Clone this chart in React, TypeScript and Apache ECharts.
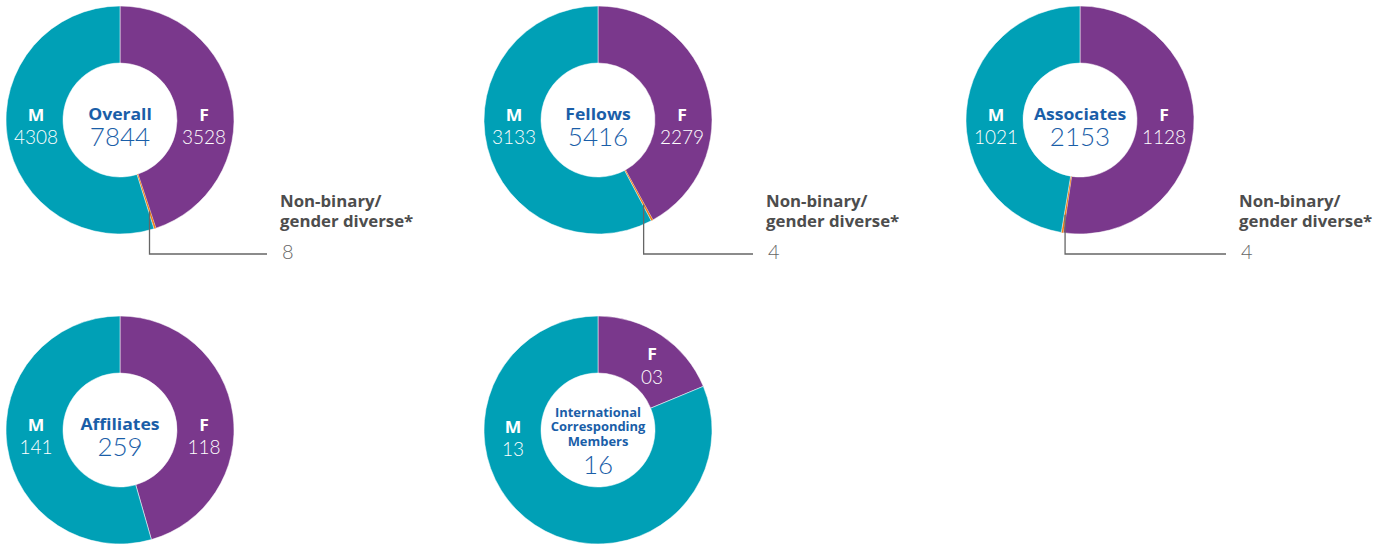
import React, { useEffect, useRef } from "react";
import * as echarts from "echarts";

const groups = ["Overall", "Fellows", "Associates", "Affiliates", "International\nCorresponding\nMembers"];
const totals = [7844, 5416, 2153, 259, 16];
const female = [3528, 2279, 1128, 118, 3];
const male = [4308, 3133, 1021, 141, 13];
const nonBinary: (number | null)[] = [8, 4, 4, null, null];
const nbTitle = ["Non-binary/", "gender diverse*"];

const TEAL = "#00a0b6";
const PURPLE = "#7a388c";
const ORANGE = "#ef7d14";
const BLUE = "#1a5ea8";
const GREY = "#4d4d4d";
const LIGHT = "Lato, sans-serif";
const BOLD = "'Open Sans', sans-serif";
const WIDE = 1.1;

const centers = [
  [120, 120],
  [598, 120],
  [1080, 120],
  [120, 430],
  [598, 430],
];
const nbTextX = [280, 766, 1239];

export default function App() {
  const ref = useRef<HTMLDivElement>(null);
  useEffect(() => {
    const chart = echarts.init(ref.current!, null, { renderer: "svg" });
    const series: any[] = [];
    const graphic: any[] = [];
    const txt = (
      x: number,
      y: number,
      text: string,
      font: string,
      fill: string,
      align = "center",
      sx = 1,
      lh = 15
    ) => ({
      type: "text",
      x,
      y,
      z: 100,
      scaleX: sx,
      silent: true,
      style: { text, font, fill, align, verticalAlign: "middle", lineHeight: lh },
    });
    groups.forEach((g, i) => {
      const [cx, cy] = centers[i];
      const data: any[] = [{ name: "F", value: female[i], itemStyle: { color: PURPLE } }];
      if (nonBinary[i] != null)
        data.push({ name: "Non-binary", value: nonBinary[i], itemStyle: { color: ORANGE, borderWidth: 0 } });
      data.push({ name: "M", value: male[i], itemStyle: { color: TEAL } });
      series.push({
        type: "pie",
        center: [cx, cy],
        radius: [57, 114],
        startAngle: 90,
        clockwise: true,
        minAngle: 1,
        label: { show: false },
        labelLine: { show: false },
        itemStyle: { borderColor: "#fff", borderWidth: 0.5 },
        emphasis: { disabled: true },
        data,
      });
      const pad = (v: number) => String(v).padStart(2, "0");
      if (i < 4) {
        graphic.push(txt(cx, cy - 6, g, `bold 16px ${BOLD}`, BLUE, "center", WIDE));
        graphic.push(txt(cx, cy + 16, String(totals[i]), `300 26px ${LIGHT}`, BLUE));
        graphic.push(txt(cx - 84, cy - 5, "M", `bold 16px ${BOLD}`, "#fff", "center", WIDE));
        graphic.push(txt(cx - 84, cy + 16, pad(male[i]), `300 19px ${LIGHT}`, "#fff"));
        graphic.push(txt(cx + 84, cy - 5, "F", `bold 16px ${BOLD}`, "#fff", "center", WIDE));
        graphic.push(txt(cx + 84, cy + 16, pad(female[i]), `300 19px ${LIGHT}`, "#fff"));
      } else {
        graphic.push(txt(cx, cy - 3, g, `bold 12px ${BOLD}`, BLUE, "center", 1.08, 14.5));
        graphic.push(txt(cx, cy + 34, String(totals[i]), `300 26px ${LIGHT}`, BLUE));
        graphic.push(txt(cx - 85, cy - 3, "M", `bold 16px ${BOLD}`, "#fff", "center", WIDE));
        graphic.push(txt(cx - 85, cy + 18, pad(male[i]), `300 19px ${LIGHT}`, "#fff"));
        graphic.push(txt(cx + 54, cy - 76, "F", `bold 16px ${BOLD}`, "#fff", "center", WIDE));
        graphic.push(txt(cx + 54, cy - 54, pad(female[i]), `300 19px ${LIGHT}`, "#fff"));
      }
      const nb = nonBinary[i];
      if (nb != null) {
        const theta = ((female[i] + nb / 2) / (female[i] + male[i] + nb)) * 2 * Math.PI;
        const r = 96;
        const ax = cx + r * Math.sin(theta);
        const ay = cy - r * Math.cos(theta);
        const tx = nbTextX[i];
        const ly = cy + 134;
        graphic.push({
          type: "polyline",
          z: 100,
          silent: true,
          shape: { points: [[ax, ay], [ax, ly], [tx - 13, ly]] },
          style: { stroke: "#666", lineWidth: 1.3, fill: null },
        });
        graphic.push(txt(tx, cy + 81, nbTitle[0], `bold 16px ${BOLD}`, GREY, "left", 1.05));
        graphic.push(txt(tx, cy + 101, nbTitle[1], `bold 16px ${BOLD}`, GREY, "left", 1.05));
        graphic.push(txt(tx + 2, cy + 131, String(nb), `300 20px ${LIGHT}`, "#666", "left"));
      }
    });
    chart.setOption({ animation: false, backgroundColor: "#fff", series, graphic });
    return () => chart.dispose();
  }, []);
  return (
    <div
      ref={ref}
      style={{ position: "fixed", left: 0, top: 0, width: 1391, height: 547 }}
    />
  );
}
